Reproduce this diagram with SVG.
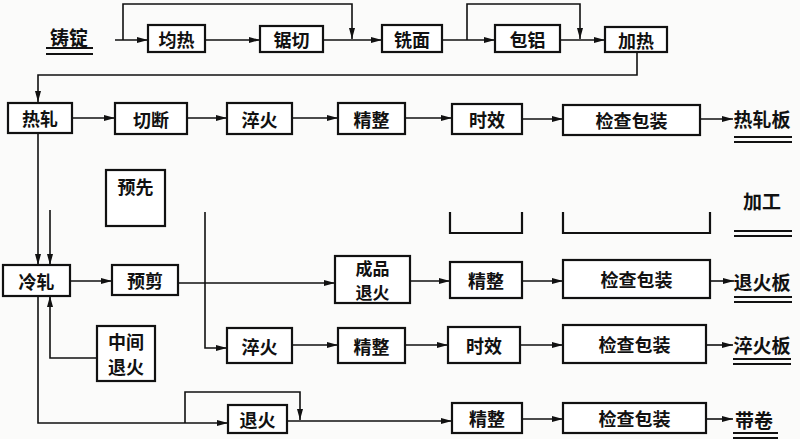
<svg xmlns="http://www.w3.org/2000/svg" width="800" height="439" viewBox="0 0 800 439">
<defs>
<marker id="ah" markerUnits="userSpaceOnUse" markerWidth="12" markerHeight="8" refX="11" refY="3.5" orient="auto">
<path d="M0,0.5 L11,3.5 L0,6.5 z" fill="#111"/>
</marker>
</defs>
<style>
.box{fill:#fff;stroke:#111;stroke-width:2.2}
.t{font-family:"Noto Sans CJK SC","Noto Sans",sans-serif;font-size:18px;font-weight:700;fill:#111;text-anchor:middle;dominant-baseline:central}
.lbl{font-size:19px}
.two{font-size:17px}
.ln{fill:none;stroke:#111;stroke-width:1.6}
.ar{marker-end:url(#ah)}
.ul{stroke:#111;stroke-width:2}
</style>
<rect width="800" height="439" fill="#fbfbfa"/>

<g id="connectors">
<path class="ln ar" d="M115,40 H148"/>
<path class="ln ar" d="M123,40 V4 H352 V39"/>
<path class="ln ar" d="M205,40 H260"/>
<path class="ln ar" d="M323,40 H382"/>
<path class="ln ar" d="M442,40 H495"/>
<path class="ln ar" d="M467,40 V4 H580 V39"/>
<path class="ln ar" d="M560,40 H605"/>
<path class="ln ar" d="M637,52 V75 H38 V102"/>
<path class="ln ar" d="M72,118 H115"/>
<path class="ln ar" d="M187,118 H227"/>
<path class="ln ar" d="M292,118 H338"/>
<path class="ln ar" d="M405,118 H452"/>
<path class="ln ar" d="M522,119 H563"/>
<path class="ln ar" d="M700,119 H733"/>
<path class="ln ar" d="M38,133 V265"/>
<path class="ln ar" d="M50,210 V265"/>
<path class="ln ar" d="M205,212 V348 H227"/>
<path class="ln ar" d="M70,281 H112"/>
<path class="ln ar" d="M178,283 H335"/>
<path class="ln ar" d="M410,281 H450"/>
<path class="ln ar" d="M522,281 H563"/>
<path class="ln ar" d="M710,281 H734"/>
<path class="ln ar" d="M97,358 H50 V296"/>
<path class="ln ar" d="M38,296 V423 H228"/>
<path class="ln ar" d="M185,423 V392 H300 V420"/>
<path class="ln ar" d="M287,421 H452"/>
<path class="ln ar" d="M522,419 H563"/>
<path class="ln ar" d="M706,419 H733"/>
<path class="ln ar" d="M292,345 H338"/>
<path class="ln ar" d="M405,345 H448"/>
<path class="ln ar" d="M520,345 H563"/>
<path class="ln ar" d="M706,345 H733"/>
</g>

<g id="n-zhuding"><text class="t lbl" x="69" y="36">铸锭</text><line class="ul" x1="46" y1="48" x2="93" y2="48"/><line class="ul" x1="46" y1="54" x2="93" y2="54"/></g>
<g id="n-junre"><rect class="box" x="148" y="25" width="57" height="27"/><text class="t" x="176.5" y="38.5">均热</text></g>
<g id="n-juqie"><rect class="box" x="260" y="26" width="63" height="26"/><text class="t" x="291.5" y="39">锯切</text></g>
<g id="n-ximian"><rect class="box" x="382" y="25" width="60" height="27"/><text class="t" x="412" y="38.5">铣面</text></g>
<g id="n-baolv"><rect class="box" x="495" y="25" width="65" height="27"/><text class="t" x="527.5" y="38.5">包铝</text></g>
<g id="n-jiare"><rect class="box" x="605" y="27" width="62" height="25"/><text class="t" x="636" y="39.5">加热</text></g>

<g id="n-rezha"><rect class="box" x="8" y="103" width="64" height="30"/><text class="t" x="40" y="118">热轧</text></g>
<g id="n-qieduan"><rect class="box" x="115" y="103" width="72" height="31"/><text class="t" x="151" y="118.5">切断</text></g>
<g id="n-cuihuo1"><rect class="box" x="227" y="103" width="65" height="31"/><text class="t" x="259.5" y="118.5">淬火</text></g>
<g id="n-jingzheng1"><rect class="box" x="338" y="103" width="67" height="31"/><text class="t" x="371.5" y="118.5">精整</text></g>
<g id="n-shixiao1"><rect class="box" x="452" y="104" width="70" height="30"/><text class="t" x="487" y="119">时效</text></g>
<g id="n-jiancha1"><rect class="box" x="563" y="105" width="137" height="30"/><text class="t" x="631.5" y="120">检查包装</text></g>
<g id="n-rezhaban"><text class="t lbl" x="762" y="118">热轧板</text><line class="ul" x1="734" y1="137" x2="792" y2="137"/><line class="ul" x1="734" y1="142" x2="792" y2="142"/></g>

<g id="n-yuxian"><rect class="box" x="106" y="170" width="59" height="56"/><text class="t" x="135.5" y="186">预先</text></g>
<g id="n-hidden1"><path class="ln" style="stroke-width:2.2" d="M450,212 V233 H522 V212"/></g>
<g id="n-hidden2"><path class="ln" style="stroke-width:2.2" d="M563,212 V233 H710 V212"/></g>
<g id="n-jiagong"><text class="t lbl" x="762" y="200">加工</text><line class="ul" x1="734" y1="231" x2="792" y2="231"/><line class="ul" x1="734" y1="236" x2="792" y2="236"/></g>

<g id="n-lengzha"><rect class="box" x="3" y="265" width="67" height="31"/><text class="t" x="36.5" y="280.5">冷轧</text></g>
<g id="n-yujian"><rect class="box" x="112" y="265" width="66" height="30"/><text class="t" x="145" y="280">预剪</text></g>
<g id="n-chengpin"><rect class="box" x="335" y="256" width="75" height="47"/><text class="t two" x="372.5" y="267.5">成品</text><text class="t two" x="372.5" y="291.5">退火</text></g>
<g id="n-jingzheng2"><rect class="box" x="450" y="262" width="72" height="36"/><text class="t" x="486" y="280">精整</text></g>
<g id="n-jiancha2"><rect class="box" x="563" y="260" width="147" height="38"/><text class="t" x="636.5" y="279">检查包装</text></g>
<g id="n-tuihuoban"><text class="t lbl" x="762" y="281">退火板</text><line class="ul" x1="734" y1="297" x2="792" y2="297"/><line class="ul" x1="734" y1="302" x2="792" y2="302"/></g>

<g id="n-zhongjian"><rect class="box" x="97" y="326" width="58" height="55"/><text class="t" x="126" y="340.5">中间</text><text class="t" x="126" y="366">退火</text></g>
<g id="n-cuihuo2"><rect class="box" x="227" y="328" width="65" height="35"/><text class="t" x="259.5" y="345.5">淬火</text></g>
<g id="n-jingzheng3"><rect class="box" x="338" y="328" width="67" height="35"/><text class="t" x="371.5" y="345.5">精整</text></g>
<g id="n-shixiao2"><rect class="box" x="448" y="327" width="72" height="36"/><text class="t" x="484" y="345">时效</text></g>
<g id="n-jiancha3"><rect class="box" x="563" y="325" width="143" height="38"/><text class="t" x="634.5" y="344">检查包装</text></g>
<g id="n-cuihuoban"><text class="t lbl" x="762" y="344">淬火板</text><line class="ul" x1="733" y1="359" x2="791" y2="359"/><line class="ul" x1="733" y1="364" x2="791" y2="364"/></g>

<g id="n-tuihuo"><rect class="box" x="228" y="405" width="59" height="28"/><text class="t" x="257.5" y="419">退火</text></g>
<g id="n-jingzheng4"><rect class="box" x="452" y="403" width="70" height="30"/><text class="t" x="487" y="418">精整</text></g>
<g id="n-jiancha4"><rect class="box" x="563" y="403" width="143" height="30"/><text class="t" x="634.5" y="418">检查包装</text></g>
<g id="n-daijuan"><text class="t lbl" x="754" y="419">带卷</text><line class="ul" x1="733" y1="433" x2="778" y2="433"/><line class="ul" x1="733" y1="438" x2="778" y2="438"/></g>
</svg>
